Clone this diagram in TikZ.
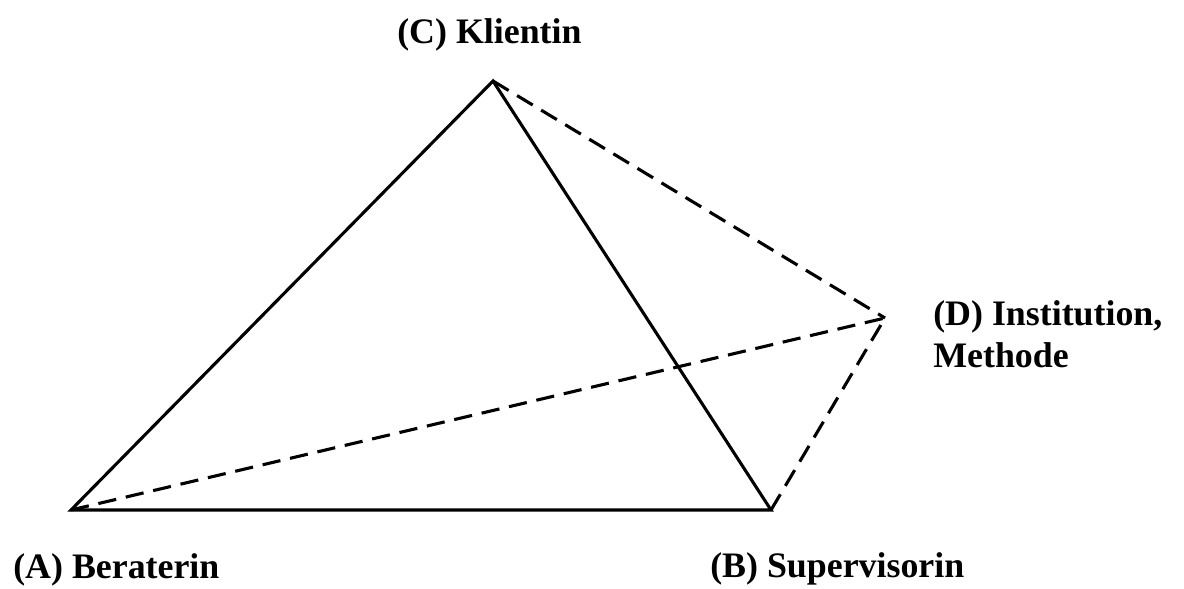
\documentclass[tikz,border=0pt]{standalone}
\usepackage{fontspec}
\setmainfont{Liberation Serif}
\begin{document}
\begin{tikzpicture}[x=0.025cm,y=-0.025cm,
  side/.style={line width=2.2pt},
  dashline/.style={line width=2.2pt,dash pattern=on 13pt off 7pt},
  lbl/.style={font=\bfseries\fontsize{25.5}{30}\selectfont,inner sep=0pt,anchor=base west}]
\useasboundingbox (0,0) rectangle (1184,588);

\coordinate (A) at (71,510);
\coordinate (B) at (771,510);
\coordinate (C) at (493,81);
\coordinate (D) at (885,318);

\draw[side] (A) -- (B) -- (C) -- cycle;

\draw[dashline] (A) -- (D);
\draw[dashline] (C) -- (D);
\draw[dashline] (B) -- (D);

\node[lbl] (la) at (13,578) {(A) Beraterin};
\node[lbl] (lb) at (710,577) {(B) Supervisorin};
\node[lbl] (lc) at (397,43) {(C) Klientin};
\node[lbl] (ld) at (933,325) {(D) Institution,};
\node[lbl] (le) at (933,367) {Methode};
\end{tikzpicture}
\end{document}
